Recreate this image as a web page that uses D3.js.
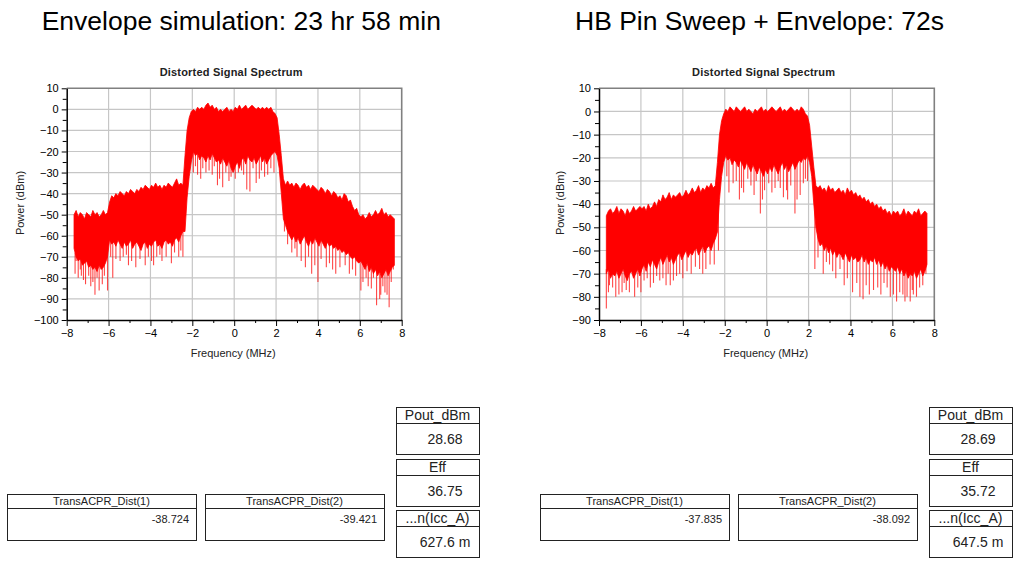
<!DOCTYPE html>
<html>
<head>
<meta charset="utf-8">
<script src="https://cdn.jsdelivr.net/npm/d3@7"></script>
<style>
  body { margin: 0; background: #fff; }
  svg { display: block; font-family: "Liberation Sans", Arial, sans-serif; }
</style>
</head>
<body>
<svg id="fig" width="1013" height="561"></svg>
<script>
// ---- spectrum samples: first bin centre and bin width (MHz) ----
const freqStart = -7.65;
const freqStep = 0.1;

// Envelope simulation run: upper edge and solid-floor of the noisy trace (dBm)
const envTop = [
  -50,-48,-51,-49,-50,-52,-49,-50,-51,-48,-50,-49,-51,-50,-48,-50,-49,
  -44,-41,-42,-40,-41,-39,-40,-41,-39,-40,-38,-39,-40,-38,-39,-37,-38,-36,
  -37,-38,-36,-37,-35,-37,-36,-38,-36,-37,-35,-36,-37,-35,-33,-36,-35,-36,
  -22,-10,-4,-1,
  0,-1,1,0,1,0,2,3,1,2,0,1,-1,0,-1,0,1,-1,0,-1,
  1,0,2,0,1,2,0,1,2,1,0,1,0,1,0,1,0,1,-1,-2,
  -4,-12,-22,-33,
  -36,-34,-36,-35,-37,-35,-36,-38,-36,-35,-37,-36,-38,-36,-37,-38,-39,-37,
  -38,-40,-38,-39,-41,-39,-40,-42,
  -41,-43,-40,-41,-44,-43,-46,-48,-47,-50,-51,
  -50,-52,-51,-49,-51,-50,-48,-50,-49,-47,-50,-49,-51,-50,-51,-52
];
const envFloor = [
  -66,-70,-72,-71,-74,-73,-72,-75,-74,-76,-75,-77,-74,-76,-75,-73,-70,
  -62,-64,-63,-65,-62,-64,-66,-63,-65,-64,-62,-66,-64,-63,-65,-67,-64,-63,
  -66,-64,-65,-63,-62,-65,-64,-66,-63,-62,-64,-63,-65,-62,-61,-63,-60,-58,
  -58,-42,-32,-25,
  -20,-22,-21,-24,-22,-23,-25,-22,-24,-21,-23,-25,-24,-26,-23,-25,-27,-24,-28,-30,
  -27,-25,-28,-24,-23,-26,-22,-24,-25,-23,-26,-24,-22,-25,-23,-26,-24,-22,-21,-20,
  -22,-28,-40,-52,
  -55,-58,-60,-62,-60,-63,-61,-64,-62,-60,-63,-65,-62,-64,-61,-63,-65,-62,
  -64,-66,-63,-65,-64,-66,-65,-67,
  -66,-68,-67,-69,-68,-70,-71,-70,-72,-73,-72,
  -74,-76,-73,-77,-75,-78,-76,-79,-77,-80,-78,-76,-79,-77,-75,-74
];
// single-bin nulls hanging below the floor: [MHz, dBm]
const envDips = [
  [-7.6,-78],[-7.55,-72],[-7.45,-80],[-7.35,-76],[-7.3,-79],[-7.2,-81],[-7.1,-83],
  [-6.95,-79],[-6.85,-84],[-6.75,-82],[-6.65,-88],[-6.55,-80],[-6.45,-86],[-6.3,-83],
  [-6.2,-79],[-6.05,-86],[-5.9,-70],[-5.8,-80],[-5.65,-71],[-5.45,-72],[-5.3,-70],
  [-5.15,-69],[-5.05,-74],[-4.9,-72],[-4.7,-75],[-4.5,-71],[-4.25,-74],[-4.1,-70],
  [-3.95,-72],[-3.85,-74],[-3.7,-70],[-3.55,-69],[-3.45,-72],[-3.25,-70],[-3.0,-73],
  [-2.85,-68],[-2.65,-70],[-2.55,-67],[-2.45,-70],
  [-1.95,-30],[-1.85,-27],[-1.75,-31],[-1.6,-33],[-1.5,-28],[-1.35,-30],[-1.2,-29],
  [-1.05,-31],[-0.95,-27],[-0.8,-36],[-0.7,-33],[-0.55,-37],[-0.4,-30],[-0.25,-34],
  [-0.15,-32],[0.05,-33],[0.2,-30],[0.35,-29],[0.45,-31],[0.6,-38],[0.75,-39],
  [0.9,-28],[1.05,-35],[1.2,-33],[1.3,-29],[1.45,-32],[1.6,-31],[1.75,-28],[1.9,-30],
  [2.4,-58],[2.55,-64],[2.75,-68],[2.9,-66],[3.0,-70],[3.2,-72],[3.4,-75],[3.55,-70],
  [3.7,-78],[3.85,-74],[4.0,-82],[4.15,-71],[4.4,-75],[4.55,-73],[4.7,-76],[4.85,-78],
  [5.05,-75],[5.3,-74],[5.5,-78],[5.65,-76],[5.8,-79],[6.05,-86],[6.15,-82],[6.3,-80],
  [6.4,-84],[6.55,-85],[6.65,-80],[6.8,-93],[6.95,-90],[7.0,-88],[7.1,-84],[7.2,-87],
  [7.3,-88],[7.4,-94],[7.5,-82],[7.6,-76]
];

// HB Pin sweep + envelope run
const hbTop = [
  -45,-43,-42,-44,-43,-41,-44,-42,-43,-45,-42,-44,-43,-41,-43,-42,-41,
  -42,-41,-43,-40,-42,-41,-39,-41,-38,-39,-36,-38,-37,-35,-38,-36,-37,-36,
  -35,-37,-36,-34,-36,-35,-33,-35,-34,-32,-35,-33,-34,-32,-33,-31,-33,-32,
  -22,-10,-4,-1,
  1,0,2,1,0,2,1,0,1,2,0,1,0,-1,1,0,1,2,0,1,
  0,1,2,1,0,1,2,0,1,0,1,2,1,0,1,0,2,1,-1,-2,
  -6,-15,-24,-32,
  -33,-32,-34,-33,-35,-32,-34,-33,-35,-34,-33,-35,-34,-36,-33,-35,-34,-36,
  -35,-37,-36,-38,-37,-39,-38,-40,
  -39,-41,-40,-42,-41,-43,-42,-44,-43,-45,-43,
  -44,-43,-45,-44,-42,-45,-43,-44,-45,-43,-44,-42,-45,-44,-43,-44
];
const hbFloor = [
  -70,-68,-72,-70,-71,-69,-72,-70,-68,-71,-73,-70,-69,-72,-70,-68,-71,
  -68,-66,-69,-65,-67,-64,-66,-68,-65,-63,-66,-64,-62,-65,-63,-66,-64,-62,
  -61,-64,-62,-60,-63,-61,-62,-60,-59,-62,-60,-58,-61,-59,-58,-60,-57,-55,
  -52,-38,-28,-22,
  -19,-21,-20,-23,-21,-22,-24,-21,-23,-25,-22,-24,-26,-23,-25,-27,-24,-26,-28,-25,
  -27,-24,-26,-23,-25,-27,-24,-22,-25,-23,-26,-24,-22,-25,-23,-21,-22,-20,-21,-19,
  -22,-28,-40,-50,
  -55,-58,-57,-60,-58,-61,-59,-62,-60,-63,-61,-62,-64,-61,-63,-65,-62,-64,
  -63,-65,-64,-62,-65,-63,-66,-64,
  -65,-63,-66,-64,-67,-65,-68,-66,-69,-67,-68,
  -69,-67,-70,-68,-71,-69,-72,-70,-71,-69,-72,-70,-68,-71,-69,-66
];
const hbDips = [
  [-7.65,-85],[-7.55,-78],[-7.5,-75],[-7.35,-76],[-7.2,-80],[-7.05,-79],[-6.9,-78],
  [-6.8,-74],[-6.7,-77],[-6.55,-78],[-6.3,-80],[-6.15,-76],[-6.0,-78],[-5.85,-73],
  [-5.7,-72],[-5.55,-76],[-5.4,-74],[-5.25,-71],[-5.1,-73],[-4.95,-72],[-4.8,-75],
  [-4.7,-70],[-4.6,-75],[-4.45,-73],[-4.3,-71],[-4.15,-70],[-4.0,-72],[-3.8,-69],
  [-3.6,-70],[-3.4,-67],[-3.2,-68],[-3.05,-70],[-2.9,-68],[-2.7,-66],[-2.5,-66],
  [-2.3,-60],
  [-1.9,-28],[-1.8,-35],[-1.6,-31],[-1.45,-30],[-1.3,-38],[-1.2,-33],[-1.1,-35],
  [-0.9,-29],[-0.75,-32],[-0.6,-36],[-0.5,-30],[-0.3,-44],[-0.2,-38],[-0.1,-34],
  [0.1,-31],[0.25,-35],[0.4,-33],[0.55,-30],[0.65,-33],[0.8,-37],[0.95,-34],
  [1.0,-38],[1.15,-32],[1.35,-44],[1.45,-38],[1.6,-36],[1.75,-31],[1.85,-29],[1.95,-30],
  [2.3,-68],[2.45,-63],[2.7,-70],[2.85,-65],[3.0,-66],[3.15,-69],[3.3,-72],[3.5,-68],
  [3.7,-75],[3.85,-72],[4.1,-78],[4.3,-74],[4.45,-80],[4.6,-81],[4.75,-75],[4.9,-79],
  [5.1,-77],[5.3,-76],[5.45,-79],[5.6,-74],[5.75,-76],[5.9,-80],[6.05,-79],[6.2,-82],
  [6.35,-78],[6.5,-79],[6.6,-82],[6.7,-80],[6.85,-82],[6.95,-77],[7.0,-79],[7.15,-80],
  [7.3,-76],[7.45,-75],[7.6,-70]
];

// ---- axes ----
const freqTicks = [-8, -6, -4, -2, 0, 2, 4, 6, 8];
const envPowerTicks = [10, 0, -10, -20, -30, -40, -50, -60, -70, -80, -90, -100];
const hbPowerTicks = [10, 0, -10, -20, -30, -40, -50, -60, -70, -80, -90];

// ---- text ----
const headings = ["Envelope simulation: 23 hr 58 min", "HB Pin Sweep + Envelope: 72s"];
const plotTitle = "Distorted Signal Spectrum";
const xLabel = "Frequency (MHz)";
const yLabel = "Power (dBm)";
const acprNames = ["TransACPR_Dist(1)", "TransACPR_Dist(2)"];
const envAcpr = ["-38.724", "-39.421"];
const hbAcpr = ["-37.835", "-38.092"];
const meterNames = ["Pout_dBm", "Eff", "...n(Icc_A)"];
const envMeters = ["28.68", "36.75", "627.6 m"];
const hbMeters = ["28.69", "35.72", "647.5 m"];

const svg = d3.select("#fig");
const RED = "#ff0000";

const panels = [
  { heading: headings[0], hx: 41.7, x0: 66.7, x1: 401.7, top: envTop, floor: envFloor,
    dips: envDips, ticks: envPowerTicks, ylx: 20, dx: 0, acpr: envAcpr, meters: envMeters },
  { heading: headings[1], hx: 575, x0: 599, x1: 934.3, top: hbTop, floor: hbFloor,
    dips: hbDips, ticks: hbPowerTicks, ylx: 560, dx: 533, acpr: hbAcpr, meters: hbMeters }
];

const yTop = 88.3, yBot = 320;

panels.forEach((p, k) => {
  const g = svg.append("g");
  const yMin = d3.min(p.ticks), yMax = d3.max(p.ticks);
  const x = d3.scaleLinear().domain([freqTicks[0], freqTicks[freqTicks.length - 1]]).range([p.x0, p.x1]);
  const y = d3.scaleLinear().domain([yMin, yMax]).range([yBot, yTop]);

  // large heading
  g.append("text").attr("x", p.hx).attr("y", 29.5)
    .attr("font-size", 26.5).attr("fill", "#000").text(p.heading);

  // plot title
  g.append("text").attr("x", (p.x0 + p.x1) / 2 - 3).attr("y", 75.5)
    .attr("text-anchor", "middle").attr("font-size", 11).attr("font-weight", "bold")
    .attr("letter-spacing", 0.2).attr("fill", "#222").text(plotTitle);

  // grid
  const grid = g.append("g").attr("stroke", "#c6c6c6").attr("stroke-width", 1.2);
  freqTicks.slice(1, -1).forEach(f => {
    grid.append("line").attr("x1", x(f)).attr("x2", x(f)).attr("y1", yTop).attr("y2", yBot);
  });
  p.ticks.filter(t => t !== yMin && t !== yMax).forEach(t => {
    grid.append("line").attr("x1", p.x0).attr("x2", p.x1).attr("y1", y(t)).attr("y2", y(t));
  });

  // trace
  const clipId = "clip" + k;
  g.append("clipPath").attr("id", clipId).append("rect")
    .attr("x", p.x0).attr("y", yTop).attr("width", p.x1 - p.x0).attr("height", yBot - yTop);
  const trace = g.append("g").attr("clip-path", `url(#${clipId})`);
  const freqOf = i => freqStart + i * freqStep;
  const samples = p.top.map((t, i) => ({ f: freqOf(i), hi: t, lo: p.floor[i] }));
  const area = d3.area().x(d => x(d.f)).y0(d => y(d.lo)).y1(d => y(d.hi));
  trace.append("path").datum(samples).attr("d", area)
    .attr("fill", RED).attr("stroke", RED).attr("stroke-width", 0.8);
  const floorAt = f => {
    const i = Math.max(0, Math.min(p.floor.length - 1, Math.round((f - freqStart) / freqStep)));
    return p.floor[i];
  };
  trace.selectAll("line.dip").data(p.dips).join("line").attr("class", "dip")
    .attr("x1", d => x(d[0])).attr("x2", d => x(d[0]))
    .attr("y1", d => y(floorAt(d[0]) + 2)).attr("y2", d => y(d[1]))
    .attr("stroke", RED).attr("stroke-width", 1.1).attr("stroke-opacity", 0.72);

  // frame (top and right)
  g.append("path")
    .attr("d", `M${p.x0},${yTop}H${p.x1}V${yBot}`)
    .attr("fill", "none").attr("stroke", "#808080").attr("stroke-width", 1.6);

  // minor ticks
  const minorY = d3.range(yMin + 5, yMax, 10);
  const minorX = d3.range(freqTicks[0] + 1, freqTicks[freqTicks.length - 1], 2);
  g.append("g").attr("transform", `translate(${p.x0},0)`)
    .call(d3.axisLeft(y).tickValues(minorY).tickSize(4).tickSizeOuter(0).tickFormat(""))
    .call(a => a.select(".domain").remove())
    .call(a => a.selectAll("line").attr("stroke", "#000"));
  g.append("g").attr("transform", `translate(0,${yBot})`)
    .call(d3.axisBottom(x).tickValues(minorX).tickSize(3).tickSizeOuter(0).tickFormat(""))
    .call(a => a.select(".domain").remove())
    .call(a => a.selectAll("line").attr("stroke", "#000"));

  // major axes
  const styleAxis = a => {
    a.select(".domain").attr("stroke", "#000").attr("stroke-width", 1.5);
    a.selectAll("line").attr("stroke", "#000");
    a.selectAll("text").attr("fill", "#000").attr("font-size", 11)
      .attr("font-family", '"Liberation Sans", Arial, sans-serif');
  };
  g.append("g").attr("transform", `translate(${p.x0},0)`)
    .call(d3.axisLeft(y).tickValues(p.ticks).tickSize(5).tickSizeOuter(0).tickPadding(3))
    .call(styleAxis);
  g.append("g").attr("transform", `translate(0,${yBot})`)
    .call(d3.axisBottom(x).tickValues(freqTicks).tickSize(6).tickSizeOuter(0).tickPadding(3))
    .call(styleAxis);

  // axis titles
  g.append("text").attr("x", (p.x0 + p.x1) / 2 - 1).attr("y", 357)
    .attr("text-anchor", "middle").attr("font-size", 11).attr("fill", "#222").text(xLabel);
  g.append("text").attr("transform", `translate(${p.ylx + 4},${203}) rotate(-90)`)
    .attr("text-anchor", "middle").attr("font-size", 11).attr("fill", "#222").text(yLabel);

  // ---- result tables ----
  const tg = g.append("g").attr("transform", `translate(${p.dx},0)`);
  const acprBoxes = [{ x: 7, w: 189 }, { x: 205, w: 179 }];
  acprBoxes.forEach((b, j) => {
    tg.append("rect").attr("x", b.x + 0.5).attr("y", 494.5).attr("width", b.w).attr("height", 46)
      .attr("fill", "none").attr("stroke", "#222");
    tg.append("line").attr("x1", b.x).attr("x2", b.x + b.w).attr("y1", 508.5).attr("y2", 508.5)
      .attr("stroke", "#222");
    tg.append("text").attr("x", b.x + b.w / 2).attr("y", 504.5).attr("text-anchor", "middle")
      .attr("font-size", 11).attr("fill", "#222").text(acprNames[j]);
    tg.append("text").attr("x", b.x + b.w - 7).attr("y", 522.5).attr("text-anchor", "end")
      .attr("font-size", 11).attr("fill", "#222").text(p.acpr[j]);
  });
  const meterTops = [407, 459, 510];
  meterTops.forEach((t, j) => {
    const bx = 396, bw = 83;
    tg.append("rect").attr("x", bx + 0.5).attr("y", t + 0.5).attr("width", bw).attr("height", 47)
      .attr("fill", "none").attr("stroke", "#222");
    tg.append("line").attr("x1", bx).attr("x2", bx + bw).attr("y1", t + 16.5).attr("y2", t + 16.5)
      .attr("stroke", "#222");
    tg.append("text").attr("x", bx + bw / 2).attr("y", t + 13).attr("text-anchor", "middle")
      .attr("font-size", 14).attr("fill", "#222").text(meterNames[j]);
    tg.append("text").attr("x", bx + bw / 2 + 7.5).attr("y", t + 37).attr("text-anchor", "middle")
      .attr("font-size", 14).attr("fill", "#222").text(p.meters[j]);
  });
});
</script>
</body>
</html>
